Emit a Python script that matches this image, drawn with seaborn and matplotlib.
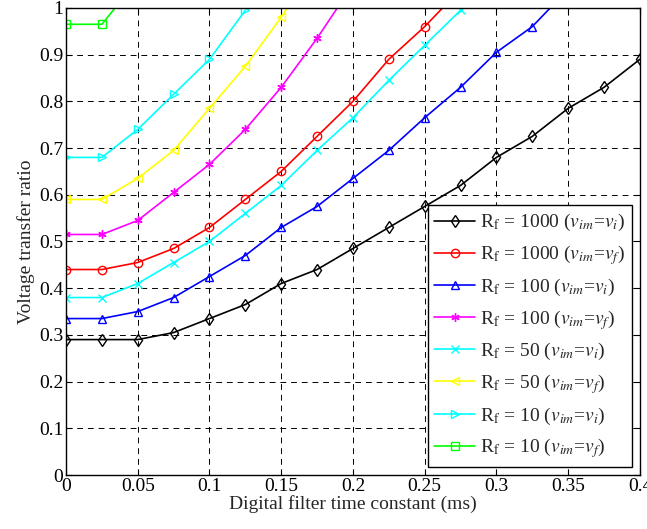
import matplotlib
matplotlib.use("Agg")
import matplotlib.pyplot as plt
import seaborn as sns
import numpy as np

# ------------------------------------------------------
# Data
# ------------------------------------------------------

x_all = [0, 0.025, 0.05, 0.075, 0.1, 0.125, 0.15, 0.175, 0.2, 0.225,
         0.25, 0.275, 0.3, 0.325, 0.35, 0.375, 0.4]

rf1000_vi = [0.29, 0.29, 0.29, 0.305, 0.335, 0.365, 0.41, 0.44, 0.485, 0.53,
             0.575, 0.62, 0.68, 0.725, 0.785, 0.83, 0.89]
rf1000_vf = [0.44, 0.44, 0.455, 0.485, 0.53, 0.59, 0.65, 0.725, 0.80, 0.89,
             0.96, 1.04]
rf100_vi = [0.335, 0.335, 0.35, 0.38, 0.425, 0.47, 0.53, 0.575, 0.635, 0.695,
            0.765, 0.83, 0.905, 0.96, 1.04]
rf100_vf = [0.515, 0.515, 0.545, 0.605, 0.665, 0.74, 0.83, 0.935, 1.05]
rf50_vi = [0.38, 0.38, 0.41, 0.455, 0.50, 0.56, 0.62, 0.695, 0.765, 0.845,
           0.92, 0.995]
rf50_vf = [0.59, 0.59, 0.635, 0.695, 0.785, 0.875, 0.98, 1.10]
rf10_vi = [0.68, 0.68, 0.74, 0.815, 0.89, 0.995]
rf10_vf = [0.965, 0.965, 1.06]

series = [
    (rf1000_vi, r"R$_\mathrm{f}$ = 1000 ($v_{im}$=$v_i$)", "black", "d"),
    (rf1000_vf, r"R$_\mathrm{f}$ = 1000 ($v_{im}$=$v_f$)", "red", "o"),
    (rf100_vi, r"R$_\mathrm{f}$ = 100 ($v_{im}$=$v_i$)", "blue", "^"),
    (rf100_vf, r"R$_\mathrm{f}$ = 100 ($v_{im}$=$v_f$)", "magenta", (6, 2, 0)),
    (rf50_vi, r"R$_\mathrm{f}$ = 50 ($v_{im}$=$v_i$)", "cyan", "x"),
    (rf50_vf, r"R$_\mathrm{f}$ = 50 ($v_{im}$=$v_f$)", "yellow", "<"),
    (rf10_vi, r"R$_\mathrm{f}$ = 10 ($v_{im}$=$v_i$)", "cyan", ">"),
    (rf10_vf, r"R$_\mathrm{f}$ = 10 ($v_{im}$=$v_f$)", "#00ff00", "s"),
]

xticks = [0, 0.05, 0.1, 0.15, 0.2, 0.25, 0.3, 0.35, 0.4]
xtick_labels = ["0", "0.05", "0.1", "0.15", "0.2", "0.25", "0.3", "0.35", "0.4"]
yticks = [0, 0.1, 0.2, 0.3, 0.4, 0.5, 0.6, 0.7, 0.8, 0.9, 1]
ytick_labels = ["0", "0.1", "0.2", "0.3", "0.4", "0.5", "0.6", "0.7", "0.8", "0.9", "1"]

# ------------------------------------------------------
# Style
# ------------------------------------------------------

sns.set_style("ticks")
plt.rcParams["font.family"] = ["Liberation Serif", "DejaVu Serif"]
plt.rcParams["mathtext.fontset"] = "stix"
plt.rcParams["xtick.direction"] = "in"
plt.rcParams["ytick.direction"] = "in"

fig = plt.figure(figsize=(6.47, 5.29), dpi=100)
ax = fig.add_axes([0.102, 0.102, 0.887, 0.883])

for values, label, color, marker in series:
    sns.lineplot(
        x=x_all[: len(values)],
        y=values,
        ax=ax,
        color=color,
        marker=marker,
        markersize=6,
        markerfacecolor="none",
        markeredgecolor=color,
        markeredgewidth=1.0,
        linewidth=1.2,
        label=label,
    )

ax.set_xlim(0, 0.4)
ax.set_ylim(0, 1)
ax.set_xticks(xticks)
ax.set_xticklabels(xtick_labels, fontsize=14)
ax.set_yticks(yticks)
ax.set_yticklabels(ytick_labels, fontsize=14)
ax.tick_params(top=True, right=True, length=4, width=0.8, colors="black", pad=2)
ax.grid(True, color="black", linestyle=(0, (6, 5)), linewidth=0.7)

for spine in ax.spines.values():
    spine.set_color("black")
    spine.set_linewidth(1.0)

ax.set_xlabel("Digital filter time constant (ms)", fontsize=14, labelpad=0)
ax.set_ylabel("Voltage transfer ratio", fontsize=14, labelpad=3)

leg = ax.legend(
    loc="lower right",
    fontsize=14,
    frameon=True,
    fancybox=False,
    framealpha=1,
    edgecolor="black",
    handlelength=2.1,
    labelspacing=0.5,
    borderaxespad=0.4,
    borderpad=0.35,
    handletextpad=0.25,
)
leg.get_frame().set_linewidth(1.0)

fig.savefig("out.png", dpi=100)
